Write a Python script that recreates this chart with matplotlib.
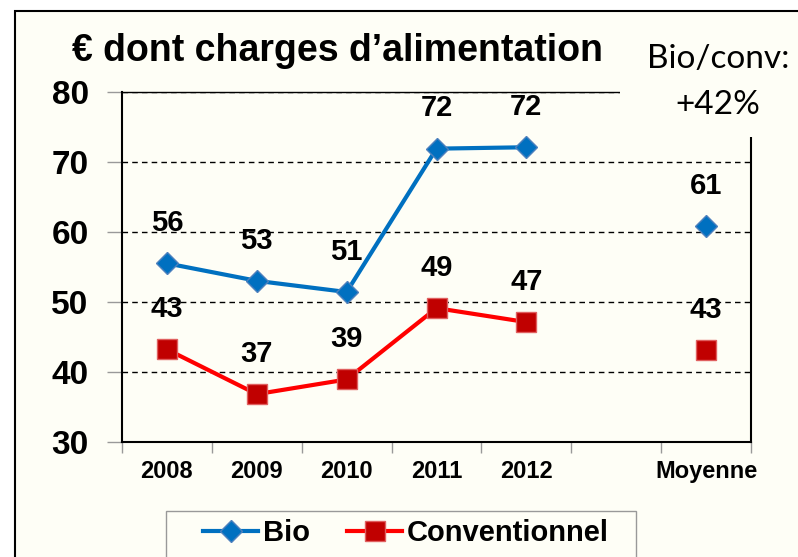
import matplotlib.pyplot as plt
from matplotlib.patches import Rectangle
import numpy as np

# data
categories = ['2008', '2009', '2010', '2011', '2012', '', 'Moyenne']
bio = [55.5, 53.0, 51.4, 71.9, 72.1, None, 60.8]
conv = [43.2, 36.8, 38.9, 49.1, 47.1, None, 43.1]
bio_labels = ['56', '53', '51', '72', '72', '', '61']
conv_labels = ['43', '37', '39', '49', '47', '', '43']
title = '€ dont charges d’alimentation'
note = 'Bio/conv:\n+42%'

bg = '#FEFEF6'
blue = '#0070C0'
red = '#FF0000'

plt.rcParams['font.family'] = ['Liberation Sans', 'DejaVu Sans']

fig = plt.figure(figsize=(7.98, 5.57), dpi=100)
fig.patch.set_facecolor('white')
W, H = 798, 557
# cream panel with black frame (cut at right/bottom edges)
fig.patches.append(Rectangle((15 / W, -0.1), 1.2, 1 - 11 / H + 0.1,
                             transform=fig.transFigure, facecolor=bg,
                             edgecolor='black', linewidth=1.5, zorder=-5))

ax = fig.add_axes([122 / W, 1 - 441.7 / H, 629 / W, (441.7 - 92) / H])
ax.set_facecolor(bg)

x = np.arange(len(categories))
b = np.array([np.nan if v is None else v for v in bio])
c = np.array([np.nan if v is None else v for v in conv])

ax.plot(x, b, color=blue, lw=3, marker='D', ms=11, mfc=blue,
        mec='#4F81BD', mew=1, label='Bio', zorder=3)
ax.plot(x, c, color=red, lw=3, marker='s', ms=14, mfc='#C00000',
        mec='#E06060', mew=1, label='Conventionnel', zorder=3)

for xi, v, t in zip(x, b, bio_labels):
    if t:
        ax.annotate(t, (xi, v), xytext=(0, 29), textcoords='offset points',
                    ha='center', va='center', fontsize=21, fontweight='bold')
for xi, v, t in zip(x, c, conv_labels):
    if t:
        ax.annotate(t, (xi, v), xytext=(0, 29), textcoords='offset points',
                    ha='center', va='center', fontsize=21, fontweight='bold')

ax.set_xlim(-0.5, len(categories) - 0.5)
ax.set_ylim(30, 80)
ax.set_yticks([30, 40, 50, 60, 70, 80])
ax.set_xticks(x)
ax.set_xticklabels(categories, fontsize=17, fontweight='bold')
ax.set_xticks(np.arange(-0.5, len(categories)), minor=True)
ax.tick_params(axis='x', which='major', length=0, pad=13)
ax.tick_params(axis='x', which='minor', length=8, color='#999999', width=1)
ax.tick_params(axis='y', length=11, color='#999999', width=1, pad=13,
               labelsize=24)
for lab in ax.get_yticklabels():
    lab.set_fontweight('bold')

for yv in [40, 50, 60, 70, 80]:
    ax.axhline(yv, color='black', lw=1, ls=(0, (4, 3)), zorder=1)

for s in ax.spines.values():
    s.set_color('black')
    s.set_linewidth(1.5)
ax.spines['top'].set_linewidth(1)

fig.text(338 / W, 1 - 51 / H, title, ha='center', va='center',
         fontsize=27, fontweight='bold')
# note box hides the top-right corner of the plot frame
fig.patches.append(Rectangle((620 / W, 1 - 137 / H), 1, 100 / H,
                             transform=fig.transFigure, facecolor=bg,
                             edgecolor='none', zorder=4))
fig.text(718 / W, 1 - 82 / H, note, ha='center', va='center',
         fontsize=24, family=['Lato', 'DejaVu Sans'], linespacing=1.65,
         zorder=5)

# legend frame drawn separately (wide left padding in the original)
fig.patches.append(Rectangle((166 / W, -0.1), (636 - 166) / W, 1 - 511 / H + 0.1,
                             transform=fig.transFigure, facecolor=bg,
                             edgecolor='#999999', linewidth=1, zorder=4))
leg = fig.legend(loc='center left', bbox_to_anchor=(203 / W, 1 - 533 / H),
                 ncol=2, frameon=False, prop={'weight': 'bold', 'size': 21},
                 handlelength=1.9, columnspacing=1.25, handletextpad=0.17,
                 borderpad=0, borderaxespad=0)
leg.set_zorder(6)

fig.savefig('out.png', dpi=100)
